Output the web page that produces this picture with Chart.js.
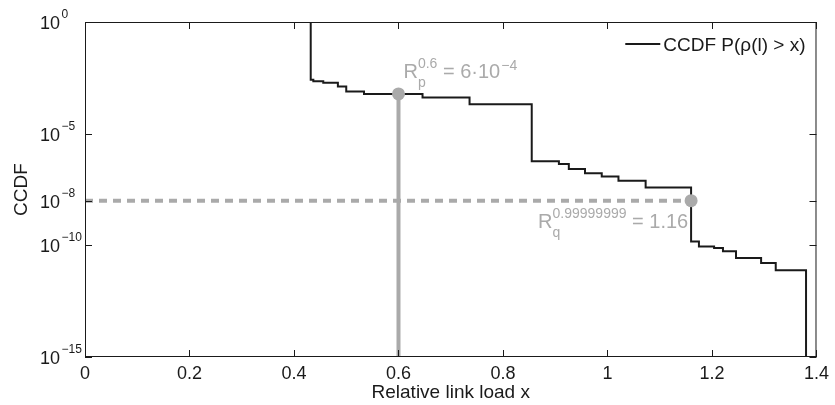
<!DOCTYPE html>
<html>
<head>
<meta charset="utf-8">
<script src="https://cdn.jsdelivr.net/npm/chart.js@4.4.0/dist/chart.umd.min.js"></script>
<style>
    body { margin: 0; background: #fff; }
    #wrap { width: 835px; height: 405px; }
</style>
</head>
<body>
<div id="wrap"><canvas id="ccdfChart" width="835" height="405"></canvas></div>
<script>
// --- Data ---
// step positions of the CCDF (value holds from x onward)
const loadX = [0, 0.432, 0.437, 0.456, 0.484, 0.500, 0.534, 0.646, 0.736,
    0.855, 0.907, 0.926, 0.957, 0.989, 1.021, 1.073,
    1.160, 1.175, 1.204, 1.221, 1.246, 1.294, 1.322, 1.380];
const ccdf = [1, 2.6e-3, 2.2e-3, 1.9e-3, 1.3e-3, 7.8e-4, 6e-4, 4.2e-4, 2.1e-4,
    5.8e-7, 4.4e-7, 2.6e-7, 1.7e-7, 1.2e-7, 7.8e-8, 3.9e-8,
    1.5e-10, 8.9e-11, 7.6e-11, 5.4e-11, 2.7e-11, 1.6e-11, 7.6e-12, 1e-15];
const xTicks = [0, 0.2, 0.4, 0.6, 0.8, 1, 1.2, 1.4];
const yTicks = [1, 1e-5, 1e-8, 1e-10, 1e-15];
// quantile markers: R_p at p = 0.6, R_q at q = 0.99999999
const quantX = [0.6, 1.16];
const quantY = [6e-4, 1e-8];

const FONT = "'Liberation Sans', Arial, sans-serif";
const INK = '#1a1a1a';
const GREY = '#aaaaaa';

// --- Frame, ticks, y labels, annotations, legend ---
const matlabAxes = {
    id: 'matlabAxes',
    afterDatasetsDraw(chart) {
        const { ctx, chartArea: a, scales: { x, y } } = chart;
        ctx.save();

        // annotations
        ctx.fillStyle = GREY;
        ctx.textAlign = 'left';
        ctx.textBaseline = 'alphabetic';
        const p1x = x.getPixelForValue(quantX[0]);
        const p1y = y.getPixelForValue(quantY[0]);
        drawQuantile(ctx, p1x + 5, p1y - 16, '0.6', 'p', ' = 6·10', '−4');
        const p2x = x.getPixelForValue(quantX[1]);
        const p2y = y.getPixelForValue(quantY[1]);
        drawQuantile(ctx, p2x - 153, p2y + 27, '0.99999999', 'q', ' = 1.16', '');

        // box
        ctx.strokeStyle = INK;
        ctx.lineWidth = 1;
        ctx.strokeRect(a.left + 0.5, a.top + 0.5, a.right - a.left - 1, a.bottom - a.top - 1);

        // inward ticks
        const len = 7;
        ctx.beginPath();
        xTicks.forEach(v => {
            const px = Math.round(x.getPixelForValue(v)) + 0.5;
            ctx.moveTo(px, a.bottom); ctx.lineTo(px, a.bottom - len);
            ctx.moveTo(px, a.top); ctx.lineTo(px, a.top + len);
        });
        yTicks.forEach(v => {
            const py = Math.round(y.getPixelForValue(v)) + 0.5;
            ctx.moveTo(a.left, py); ctx.lineTo(a.left + len, py);
            ctx.moveTo(a.right, py); ctx.lineTo(a.right - len, py);
        });
        ctx.stroke();

        // y tick labels 10^n
        ctx.fillStyle = INK;
        yTicks.forEach(v => {
            const py = y.getPixelForValue(v);
            const e = Math.round(Math.log10(v));
            const exp = e === 0 ? '0' : '−' + Math.abs(e);
            ctx.font = '18px ' + FONT;
            ctx.fillText('10', 40, py + 7);
            const w = ctx.measureText('10').width;
            ctx.font = '12px ' + FONT;
            ctx.fillText(exp, 40 + w + 1.5, py - 4);
        });

        // legend
        const label = chart.data.datasets[0].label;
        ctx.font = '19px ' + FONT;
        const tw = ctx.measureText(label).width;
        const tx = a.right - 11 - tw;
        const ly = a.top + 22;
        ctx.fillText(label, tx, ly + 7);
        ctx.strokeStyle = INK;
        ctx.lineWidth = 2;
        ctx.beginPath();
        ctx.moveTo(tx - 38, ly);
        ctx.lineTo(tx - 3, ly);
        ctx.stroke();

        ctx.restore();
    }
};

function drawQuantile(ctx, x0, base, sup, sub, tail, tailExp) {
    ctx.font = '20px ' + FONT;
    ctx.fillText('R', x0, base);
    const rw = ctx.measureText('R').width;
    ctx.font = '14px ' + FONT;
    ctx.fillText(sup, x0 + rw, base - 10);
    ctx.fillText(sub, x0 + rw, base + 9);
    const sw = Math.max(ctx.measureText(sup).width, ctx.measureText(sub).width);
    ctx.font = '20px ' + FONT;
    ctx.fillText(tail, x0 + rw + sw, base);
    const tw = ctx.measureText(tail).width;
    if (tailExp) {
        ctx.font = '14px ' + FONT;
        ctx.fillText(tailExp, x0 + rw + sw + tw + 1, base - 8);
    }
}

const ctx = document.getElementById('ccdfChart').getContext('2d');

new Chart(ctx, {
    type: 'line',
    data: {
        datasets: [{
            label: 'CCDF P(ρ(l) > x)',
            data: loadX.map((v, i) => ({ x: v, y: ccdf[i] })),
            borderColor: INK,
            borderWidth: 2,
            stepped: true,
            pointRadius: 0,
            order: 3
        }, {
            label: 'R_p',
            data: [{ x: quantX[0], y: quantY[0] }, { x: quantX[0], y: yTicks[yTicks.length - 1] }],
            borderColor: GREY,
            borderWidth: 4,
            pointRadius: 0,
            order: 2
        }, {
            label: 'R_q',
            data: [{ x: 0, y: quantY[1] }, { x: quantX[1], y: quantY[1] }],
            borderColor: GREY,
            borderWidth: 4,
            borderDash: [8, 6],
            pointRadius: 0,
            order: 2
        }, {
            label: 'markers',
            data: quantX.map((v, i) => ({ x: v, y: quantY[i] })),
            showLine: false,
            pointRadius: 6.5,
            pointBackgroundColor: GREY,
            pointBorderWidth: 0,
            order: 1
        }]
    },
    options: {
        responsive: false,
        animation: false,
        layout: { padding: { left: 0, right: 15, top: 22, bottom: 0 } },
        plugins: {
            legend: { display: false },
            tooltip: { enabled: false }
        },
        scales: {
            x: {
                type: 'linear',
                min: 0,
                max: 1.4,
                afterBuildTicks: s => { s.ticks = xTicks.map(v => ({ value: v })); },
                afterFit: s => { s.height = 48; },
                grid: { display: false, drawTicks: false },
                border: { display: false },
                ticks: {
                    color: INK,
                    padding: 6,
                    maxRotation: 0,
                    font: { family: FONT, size: 18 },
                    callback: v => String(+v.toFixed(1))
                },
                title: {
                    display: true,
                    text: 'Relative link load x',
                    color: INK,
                    font: { family: FONT, size: 19 },
                    padding: { top: 0, bottom: 1 }
                }
            },
            y: {
                type: 'logarithmic',
                min: 1e-15,
                max: 1,
                afterBuildTicks: s => { s.ticks = yTicks.map(v => ({ value: v })); },
                afterFit: s => { s.width = 85; },
                grid: { display: false, drawTicks: false },
                border: { display: false },
                ticks: { display: false },
                title: {
                    display: true,
                    text: 'CCDF',
                    color: INK,
                    font: { family: FONT, size: 19 },
                    padding: { top: 10, bottom: 0 }
                }
            }
        }
    },
    plugins: [matlabAxes]
});
</script>
</body>
</html>
